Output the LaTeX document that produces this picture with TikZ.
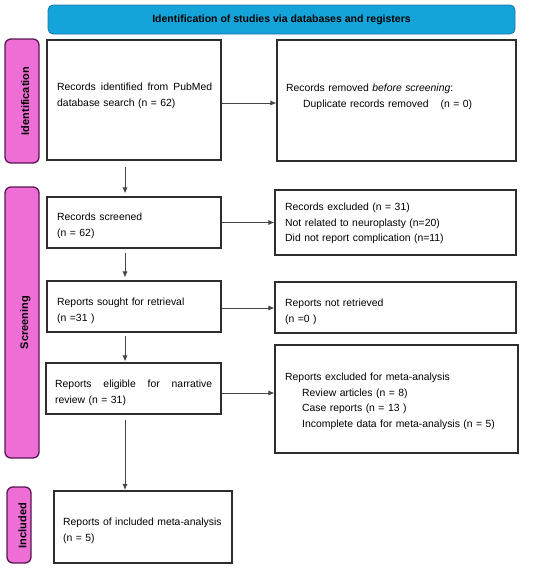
\documentclass[tikz,border=0pt]{standalone}
\usepackage{fontspec}
\setmainfont{Liberation Sans}
\usetikzlibrary{arrows.meta}
\definecolor{bannerblue}{RGB}{20,164,217}
\definecolor{bannerline}{RGB}{30,115,165}
\definecolor{pinkfill}{RGB}{238,110,214}
\definecolor{pinkline}{RGB}{85,25,80}
\definecolor{boxline}{RGB}{45,45,45}
\definecolor{arrowline}{RGB}{70,70,70}
\tikzset{
  box/.style={draw=boxline, line width=1.1pt, inner sep=0pt},
  sidebox/.style={draw=pinkline, fill=pinkfill, line width=1.3pt, rounded corners=6pt, inner sep=0pt},
  sidetext/.style={rotate=90, anchor=base, inner sep=0pt, font=\fontsize{11}{13}\selectfont\bfseries},
  txt/.style={anchor=north west, inner sep=0pt, text width=240pt, align=left, font=\fontsize{10.4}{15.8}\selectfont},
  flow/.style={draw=arrowline, line width=0.8pt, -{Latex[length=6pt, width=5pt]}},
}
\begin{document}
\begin{tikzpicture}[x=1pt, y=-1pt]
\useasboundingbox (0,0) rectangle (550,568);
% banner
\node[draw=bannerline, fill=bannerblue, line width=0.8pt, rounded corners=5pt, minimum width=467pt, minimum height=29pt, inner sep=0pt,
      font=\fontsize{10.5}{12}\selectfont\bfseries] (banner) at (281.5,19.5) {Identification of studies via databases and registers};
% side labels
\node[sidebox, minimum width=34pt, minimum height=124pt] (idlab) at (22,101) {};
\node[sidebox, minimum width=34pt, minimum height=271pt] (scrlab) at (22,322.5) {};
\node[sidebox, minimum width=24pt, minimum height=76pt] (inclab) at (19,525) {};
\node[sidetext] (idtext) at (29,101) {Identification};
\node[sidetext] (scrtext) at (28,322.5) {Screening};
\node[sidetext] (inctext) at (26.5,525.5) {Included};
% boxes
\node[box, minimum width=174pt, minimum height=120pt] (b1) at (134,100) {};
\node[box, minimum width=239pt, minimum height=121pt] (r1) at (396.5,100.5) {};
\node[box, minimum width=174pt, minimum height=51pt] (b2) at (134,222.5) {};
\node[box, minimum width=241pt, minimum height=65pt] (r2) at (395.5,222.5) {};
\node[box, minimum width=174pt, minimum height=51pt] (b3) at (134,306.5) {};
\node[box, minimum width=241pt, minimum height=51pt] (r3) at (395.5,307.5) {};
\node[box, minimum width=175pt, minimum height=51pt] (b4) at (133.5,388.5) {};
\node[box, minimum width=243pt, minimum height=108pt] (r4) at (396.5,399) {};
\node[box, minimum width=178pt, minimum height=72pt] (b5) at (143,527) {};
% texts
\node[txt] (t1) at (57,79) {\strut\hbox to 155pt{Records\hfill identified\hfill from\hfill PubMed}\\database search (n = 62)};
\node[txt] (tr1) at (286,80) {\strut Records removed \textit{before screening}:\\\hspace*{17pt}Duplicate records removed\hspace{12pt}(n = 0)};
\node[txt] (t2) at (57,209) {\strut Records screened\\(n = 62)};
\node[txt] (tr2) at (285,199) {\strut Records excluded (n = 31)\\Not related to neuroplasty (n=20)\\Did not report complication (n=11)};
\node[txt] (t3) at (57,294) {\strut Reports sought for retrieval\\(n =31 )};
\node[txt] (tr3) at (285,295) {\strut Reports not retrieved\\(n =0 )};
\node[txt] (t4) at (55,376) {\strut\hbox to 157pt{Reports\hfill eligible\hfill for\hfill narrative}\\review (n = 31)};
\node[txt] (tr4) at (285,369) {\strut Reports excluded for meta-analysis\\\hspace*{17pt}Review articles (n = 8)\\\hspace*{17pt}Case reports (n = 13 )\\\hspace*{17pt}Incomplete data for meta-analysis (n = 5)};
\node[txt] (t5) at (63,514) {\strut Reports of included meta-analysis\\(n = 5)};
% horizontal arrows
\draw[flow] ([yshift=-3pt]b1.east) -- ([yshift=-3pt]b1.east -| r1.west);
\draw[flow] (b2.east) -- (b2.east -| r2.west);
\draw[flow] ([yshift=-1.5pt]b3.east) -- ([yshift=-1.5pt]b3.east -| r3.west);
\draw[flow] ([yshift=-4.5pt]b4.east) -- ([yshift=-4.5pt]b4.east -| r4.west);
% vertical arrows
\draw[flow, shorten <=6pt, shorten >=3pt] ([xshift=-9pt]b1.south) -- ([xshift=-9pt]b1.south |- b2.north);
\draw[flow, shorten <=4pt, shorten >=3pt] ([xshift=-9pt]b2.south) -- ([xshift=-9pt]b2.south |- b3.north);
\draw[flow, shorten <=3pt, shorten >=1pt] ([xshift=-9pt]b3.south) -- ([xshift=-9pt]b3.south |- b4.north);
\draw[flow, shorten <=5pt, shorten >=0.5pt] ([xshift=-8.5pt]b4.south) -- ([xshift=-8.5pt]b4.south |- b5.north);
\end{tikzpicture}
\end{document}
